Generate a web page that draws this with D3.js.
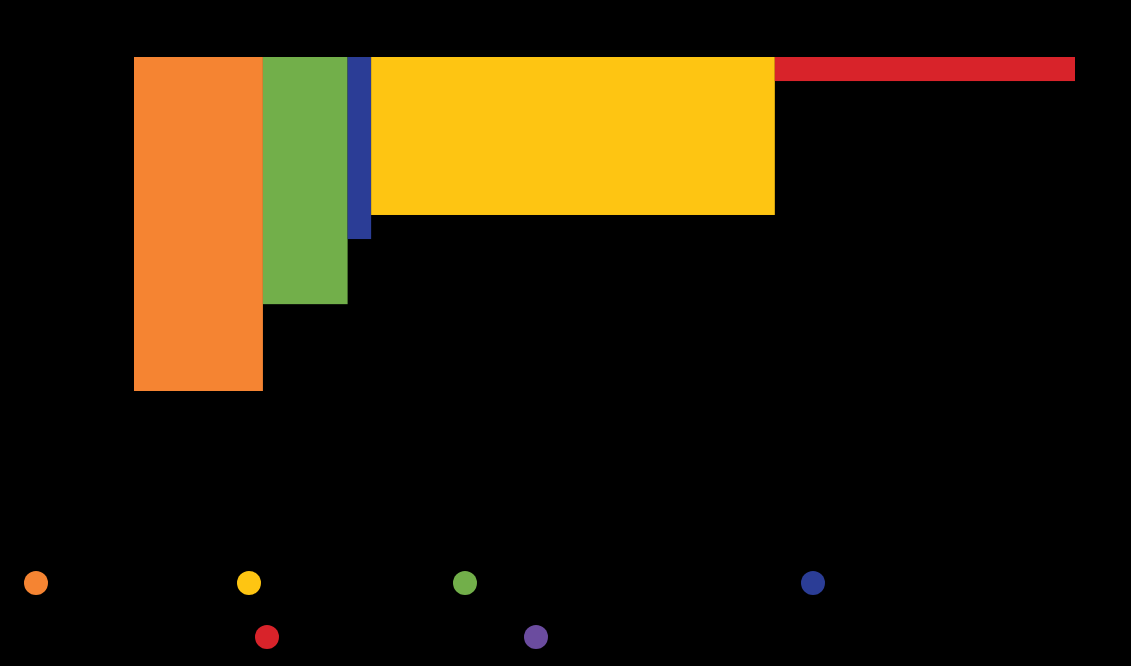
<!DOCTYPE html>
<html>
<head>
<meta charset="utf-8">
<script src="https://cdn.jsdelivr.net/npm/d3@7"></script>
<style>
  body { margin: 0; background: #000; }
  svg { display: block; font-family: "Open Sans", sans-serif; }
</style>
</head>
<body>
<script>
var WIDTH = 1131;
var HEIGHT = 666;

// series (order along the x axis)
var categories = ["A", "B", "C", "D", "E"];
var widths = [13.7, 9.0, 2.5, 42.9, 31.9];     // share of total, %
var values = [100, 74, 54.5, 47.3, 7.2];        // bar depth
var barColors = ["#f58432", "#72af4a", "#2b3d96", "#fec512", "#d8232a"];

// legend
var legendNames = ["A", "D", "B", "C", "E", "F"];
var legendColors = ["#f58432", "#fec512", "#72af4a", "#2b3d96", "#d8232a", "#6b4c9f"];

var svg = d3.select("body")
  .append("svg")
  .attr("width", WIDTH)
  .attr("height", HEIGHT);

var x = d3.scaleLinear().domain([0, d3.sum(widths)]).range([134, 1075]);
var y = d3.scaleLinear().domain([0, 100]).range([57, 391]);

var data = [];
var acc = 0;
for (let i = 0; i < categories.length; i++) {
  data.push({ name: categories[i], x0: acc, x1: acc + widths[i], v: values[i], color: barColors[i] });
  acc += widths[i];
}

svg.selectAll("rect.bar")
  .data(data)
  .enter()
  .append("rect")
  .attr("class", "bar")
  .attr("x", d => x(d.x0))
  .attr("width", d => x(d.x1) - x(d.x0))
  .attr("y", y(0))
  .attr("height", d => y(d.v) - y(0))
  .style("fill", d => d.color);

// legend: two rows
var legendPos = [
  { cx: 36, cy: 583 }, { cx: 249, cy: 583 }, { cx: 465, cy: 583 }, { cx: 813, cy: 583 },
  { cx: 267, cy: 637 }, { cx: 536, cy: 637 }
];

var items = svg.selectAll("g.legend")
  .data(legendNames)
  .enter()
  .append("g")
  .attr("class", "legend")
  .attr("transform", (d, i) => "translate(" + legendPos[i].cx + "," + legendPos[i].cy + ")");

items.append("circle")
  .attr("r", 12)
  .style("fill", (d, i) => legendColors[i]);

items.append("text")
  .attr("x", 22)
  .attr("dy", "0.35em")
  .style("font-size", "18px")
  .style("fill", "#000")
  .text(d => d);
</script>
</body>
</html>
